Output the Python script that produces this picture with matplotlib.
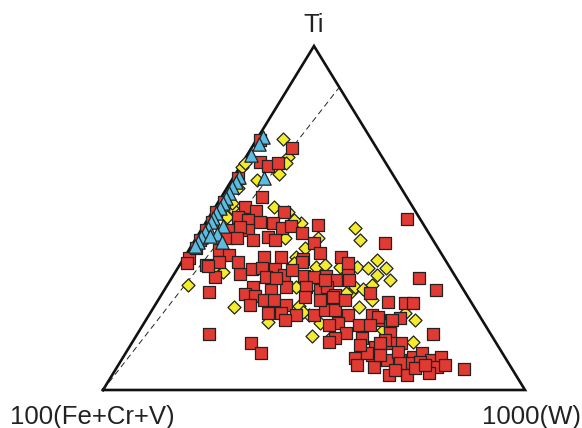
import numpy as np
import matplotlib
matplotlib.use("Agg")
import matplotlib.pyplot as plt

# ternary compositions, in percent (Ti, W); Fe+Cr+V is the rest
red_ti = [72.7, 70.3, 66.3, 65.1, 66.0, 56.1, 53.2, 52.0, 51.7, 50.3, 49.4, 48.8, 48.5, 47.1,
          47.7, 45.6, 48.0, 42.7, 39.8, 46.5, 43.6, 44.5, 43.6, 46.5, 44.2, 40.7, 39.2, 37.2,
          36.3, 32.8, 28.5, 38.4, 36.9, 43.6, 48.8, 54.7, 61.6, 46.5, 51.7, 41.3, 47.4, 44.2,
          49.7, 42.7, 32.6, 29.1, 16.3, 6.1, 16.3, 13.7, 10.8,
          38.7, 38.7, 38.1, 33.7, 35.2, 35.5, 35.2, 33.4, 32.8, 33.1, 32.8, 33.1, 32.0, 34.3,
          38.7, 36.9, 32.0, 29.9, 29.1, 29.9, 29.9, 29.1, 29.9, 27.9, 27.3, 26.2, 26.2, 24.7,
          27.0, 27.6, 28.2, 24.7, 22.4, 22.4, 21.8, 21.8, 23.3, 23.3, 21.8, 18.9, 19.5, 18.9,
          16.6, 15.1, 15.1, 14.0, 21.8, 20.3, 25.6, 25.3, 25.3, 20.9, 18.9, 16.6, 13.7, 13.7,
          14.5, 10.2, 6.7, 9.3, 7.3, 8.7, 8.7, 9.6, 10.8, 8.7, 9.6, 6.7, 4.9, 7.8, 4.4, 4.4,
          11.0, 12.5, 8.1, 21.2, 18.9, 13.7, 10.8, 7.8, 36.0, 37.2, 27.0, 32.0, 20.3,
          26.2, 26.2, 13.1, 5.8, 6.4, 7.3, 7.3, 10.2, 20.3, 37.2, 34.9, 32.6]
red_w = [0.8, 9.7, 4.1, 6.6, 8.5, 9.6, 7.1, 10.3, 17.0, 6.8, 9.7, 12.8, 16.0, 18.8,
         20.7, 24.4, 27.0, 28.6, 31.5, 11.1, 13.8, 16.8, 19.0, 7.4, 7.3, 7.1, 10.3, 8.9,
         6.3, 10.1, 10.9, 1.2, 1.5, 1.2, 1.4, 1.3, 1.2, 1.2, 1.0, 1.4, 8.8, 9.7,
         47.2, 45.5, 58.6, 64.4, 70.1, 82.5, 17.0, 28.3, 32.0,
         18.8, 22.8, 28.4, 15.6, 17.7, 20.0, 23.2, 26.2, 22.2, 31.1, 33.6, 36.4, 39.2, 41.0,
         37.1, 39.7, 42.3, 20.6, 25.3, 28.5, 33.2, 36.9, 38.2, 19.8, 22.4, 25.1, 27.4, 31.1,
         34.4, 41.2, 49.2, 22.5, 27.9, 31.0, 34.8, 39.1, 41.0, 43.4, 47.2, 51.3, 46.0, 44.1,
         49.3, 53.9, 47.5, 46.6, 52.9, 55.3, 54.7, 59.0, 60.9, 60.0, 58.6, 59.7, 63.8, 61.2,
         59.6, 58.7, 60.9, 55.1, 56.6, 63.0, 66.0, 68.7, 70.2, 73.4, 75.3, 75.8, 74.8, 68.6,
         65.6, 69.8, 64.4, 58.2, 71.1, 54.6, 53.8, 58.8, 57.2, 66.5, 6.9, 28.6, 41.0, 36.6, 33.0,
         38.3, 44.3, 54.4, 66.3, 70.7, 72.7, 77.4, 60.5, 58.4, 13.4, 27.4, 24.7]

yellow_ti = [73.0, 67.7, 66.0, 62.8, 61.0, 64.8, 66.0, 58.7, 52.9, 53.2, 51.7, 48.5, 49.4,
             44.2, 44.2, 41.3, 38.7, 36.9, 35.8, 36.3, 47.1, 43.6, 35.8, 35.5, 37.8, 35.5,
             33.4, 32.0, 30.5, 28.5, 28.2, 29.9, 30.5, 24.4, 24.1, 30.5, 19.8, 21.8, 19.5,
             15.7, 17.4, 20.3, 14.0, 22.4, 24.1, 34.3, 35.8, 50.3, 54.4, 30.0, 26.2, 28.5,
             29.4, 15.7, 22.7, 35.8]
yellow_w = [6.2, 10.0, 10.4, 10.3, 6.0, 0.6, 0.6, 2.7, 4.1, 13.9, 18.0, 22.7, 20.6,
            21.0, 28.9, 27.2, 26.4, 26.8, 32.6, 34.5, 36.2, 39.1, 42.3, 45.1, 46.0, 49.4,
            48.2, 52.0, 48.5, 44.5, 43.5, 30.8, 34.3, 34.3, 19.0, 4.9, 29.2, 37.9, 41.7,
            41.7, 57.7, 63.8, 66.5, 60.4, 48.7, 11.3, 8.4, 4.3, 3.4, 44.7, 50.7, 37.9,
            46.8, 46.5, 36.0, 38.3]

blue_ti = [73.5, 71.5, 68.3, 61.6, 61.9, 60.5, 59.0, 57.3, 55.8, 54.4, 52.9, 51.5, 50.0,
           48.8, 47.7, 47.1, 45.9, 45.3, 44.5, 44.8, 43.0, 41.9, 43.0]
blue_w = [1.2, 1.2, 1.0, 7.4, 1.3, 1.2, 1.1, 1.2, 1.2, 1.2, 1.2, 1.1, 1.1,
          1.2, 4.6, 1.3, 1.2, 4.4, 1.0, 3.0, 1.0, 0.9, 6.7]

# end of the dashed reference line on the Ti-W side
line_ti = [0, 88]
line_w = [0, 12]


def tern(ti, w):
    ti = np.asarray(ti) / 100.0
    w = np.asarray(w) / 100.0
    return w + ti / 2.0, ti


fig = plt.figure(figsize=(5.82, 4.28), dpi=100)
ax = fig.add_axes([103 / 582, 1 - 390 / 428, 422 / 582, 344 / 428])
ax.set_xlim(0, 1)
ax.set_ylim(0, 1)
ax.axis("off")

ax.plot([0, 1, 0.5, 0], [0, 0, 1, 0], color="#111111", lw=1.9, clip_on=False,
        solid_joinstyle="miter", zorder=1)
lx, ly = tern(line_ti, line_w)
ax.plot(lx, ly, color="#222222", lw=0.7, dashes=(6, 4), zorder=1)

ec = "#222222"
x, y = tern(yellow_ti, yellow_w)
ax.scatter(x, y, marker="D", s=44, c="#F3EC2E", edgecolors=ec, linewidths=0.9,
           clip_on=False, zorder=2)
x, y = tern(red_ti, red_w)
ax.scatter(x, y, marker="s", s=66, c="#E03A32", edgecolors=ec, linewidths=0.9,
           clip_on=False, zorder=3)
x, y = tern(blue_ti, blue_w)
ax.scatter(x, y, marker="^", s=92, c="#5BBCE2", edgecolors=ec, linewidths=0.9,
           clip_on=False, zorder=4)

font = dict(family=["Liberation Sans", "DejaVu Sans"], fontsize=18.5, color="#222222")
fig.text(314 / 582, 1 - 32 / 428, "Ti", ha="center", va="baseline", **font)
fig.text(92 / 582, 1 - 424 / 428, "100(Fe+Cr+V)", ha="center", va="baseline", **font)
fig.text(531 / 582, 1 - 424 / 428, "1000(W)", ha="center", va="baseline", **font)

fig.savefig("out.png", dpi=100)
